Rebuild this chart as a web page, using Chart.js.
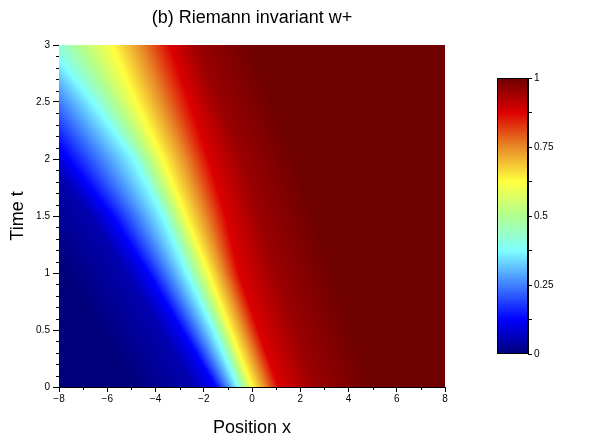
<!DOCTYPE html>
<html lang="en">
<head>
<meta charset="UTF-8">
<title>(b) Riemann invariant w+</title>
<script src="https://cdn.jsdelivr.net/npm/chart.js"></script>
<style>
    body { margin: 0; background: #fff; }
    #wrap { position: relative; width: 589px; height: 446px; }
    #mainChart { position: absolute; left: 0; top: 0; }
    #barChart { position: absolute; left: 490px; top: 70px; }
</style>
</head>
<body>
<div id="wrap">
    <canvas id="mainChart" width="589" height="446"></canvas>
    <canvas id="barChart" width="99" height="295"></canvas>
</div>
<script>
const tRows = [0, 0.5, 1, 1.5, 2, 2.5, 3];
// w+ level of each contour
const levels = [0, 0.05, 0.125, 0.375, 0.625, 0.875, 0.95, 1];
// x position of each contour at every time row
const x_w000 = [-5, -6.4, -7.8, -9.3, -11.1, -12.8, -14.3];
const x_w005 = [-2.4, -3.8, -5.2, -6.7, -8.5, -10.2, -11.7];
const x_w0125 = [-1.5, -2.9, -4.3, -5.8, -7.6, -9.3, -10.8];
const x_w0375 = [-0.6, -1.6, -2.7, -3.7, -4.9, -6.6, -8.5];
const x_w0625 = [0.0, -0.9, -1.8, -2.75, -3.7, -4.8, -5.8];
const x_w0875 = [1.1, 0.25, -0.55, -1.1, -1.8, -2.6, -3.4];
const x_w095 = [2.6, 1.8, 1.0, 0.3, -0.4, -1.4, -2.3];
const x_w100 = [5, 4.2, 3.4, 2.6, 1.8, 0.9, 0];
const levelX = [x_w000, x_w005, x_w0125, x_w0375, x_w0625, x_w0875, x_w095, x_w100];

// colour scale
const cmapStops = [0, 0.125, 0.25, 0.375, 0.5, 0.625, 0.75, 0.875, 1];
const cmapColors = ['#00007a', '#0000ff', '#4080ff', '#80ffff', '#b0ff90', '#ffff40', '#e88a28', '#dc0000', '#6e0000'];

const xTicks = [-8, -6, -4, -2, 0, 2, 4, 6, 8];
const yTicks = [0, 0.5, 1, 1.5, 2, 2.5, 3];
const barTicks = [0, 0.25, 0.5, 0.75, 1];

const FONT = "'Liberation Sans', Arial, sans-serif";

const cmapRgb = cmapColors.map(c => [1, 3, 5].map(i => parseInt(c.substr(i, 2), 16)));

function colorFor(v) {
    v = Math.max(0, Math.min(1, v));
    for (let i = 1; i < cmapStops.length; i++) {
        if (v <= cmapStops[i]) {
            const f = (v - cmapStops[i - 1]) / (cmapStops[i] - cmapStops[i - 1]);
            const a = cmapRgb[i - 1], b = cmapRgb[i];
            return [0, 1, 2].map(k => Math.round(a[k] + (b[k] - a[k]) * f));
        }
    }
    return cmapRgb[cmapRgb.length - 1];
}

function rowPos(t, arr) {
    for (let i = 1; i < tRows.length; i++) {
        if (t <= tRows[i]) {
            const f = (t - tRows[i - 1]) / (tRows[i] - tRows[i - 1]);
            return arr[i - 1] + (arr[i] - arr[i - 1]) * f;
        }
    }
    return arr[arr.length - 1];
}

function valueAt(xv, pos) {
    if (xv <= pos[0]) return levels[0];
    for (let i = 1; i < pos.length; i++) {
        if (xv <= pos[i]) {
            const f = (xv - pos[i - 1]) / (pos[i] - pos[i - 1]);
            return levels[i - 1] + (levels[i] - levels[i - 1]) * f;
        }
    }
    return levels[levels.length - 1];
}

function fmt(v) {
    return v < 0 ? '\u2212' + Math.abs(v) : String(v);
}

const heatmap = {
    id: 'heatmap',
    beforeDatasetsDraw(chart) {
        const { ctx, chartArea: a, scales: { x, y } } = chart;
        const w = Math.round(a.right - a.left), h = Math.round(a.bottom - a.top);
        const off = document.createElement('canvas');
        off.width = w; off.height = h;
        const octx = off.getContext('2d');
        const img = octx.createImageData(w, h);
        for (let py = 0; py < h; py++) {
            const t = y.getValueForPixel(a.top + py + 0.5);
            const pos = levelX.map(arr => rowPos(t, arr));
            for (let px = 0; px < w; px++) {
                const c = colorFor(valueAt(x.getValueForPixel(a.left + px + 0.5), pos));
                const k = (py * w + px) * 4;
                img.data[k] = c[0]; img.data[k + 1] = c[1]; img.data[k + 2] = c[2]; img.data[k + 3] = 255;
            }
        }
        octx.putImageData(img, 0, 0);
        ctx.drawImage(off, a.left, a.top);
    },
    afterDraw(chart) {
        // minor ticks
        const { ctx, chartArea: a, scales: { x, y } } = chart;
        ctx.save();
        ctx.strokeStyle = '#000';
        ctx.lineWidth = 1;
        ctx.beginPath();
        for (let v = -7; v <= 7; v += 2) {
            const p = Math.round(x.getPixelForValue(v)) + 0.5;
            ctx.moveTo(p, a.bottom); ctx.lineTo(p, a.bottom + 3);
        }
        for (let i = 0; i <= 30; i++) {
            if (i % 5 === 0) continue;
            const p = Math.round(y.getPixelForValue(i / 10)) + 0.5;
            ctx.moveTo(a.left, p); ctx.lineTo(a.left - 3, p);
        }
        ctx.stroke();
        ctx.restore();
    }
};

new Chart(document.getElementById('mainChart'), {
    type: 'scatter',
    data: { datasets: [] },
    options: {
        responsive: false,
        animation: false,
        layout: { padding: { left: 0, right: 144, top: 0, bottom: 0 } },
        plugins: {
            legend: { display: false },
            tooltip: { enabled: false },
            title: {
                display: true,
                text: '(b) Riemann invariant w+',
                color: '#000',
                fullSize: false,
                font: { family: FONT, size: 18, weight: 'normal' },
                padding: { top: 7, bottom: 16.4 }
            }
        },
        scales: {
            x: {
                type: 'linear', min: -8, max: 8,
                afterFit: s => { s.height = 59; },
                afterBuildTicks: s => { s.ticks = xTicks.map(v => ({ value: v })); },
                border: { color: '#000' },
                grid: { drawOnChartArea: false, tickLength: 5, color: '#000' },
                ticks: { color: '#000', font: { family: FONT, size: 10 }, padding: 1, maxRotation: 0, callback: v => fmt(v) },
                title: { display: true, text: 'Position x', color: '#000', font: { family: FONT, size: 18 }, padding: { top: 0, bottom: 7 } }
            },
            y: {
                type: 'linear', min: 0, max: 3,
                afterFit: s => { s.width = 59; },
                afterBuildTicks: s => { s.ticks = yTicks.map(v => ({ value: v })); },
                border: { color: '#000' },
                grid: { drawOnChartArea: false, tickLength: 6, color: '#000' },
                ticks: { color: '#000', font: { family: FONT, size: 10 }, padding: 3, callback: v => fmt(v) },
                title: { display: true, text: 'Time t', color: '#000', font: { family: FONT, size: 18 }, padding: { top: 7, bottom: 0 } }
            }
        }
    },
    plugins: [heatmap]
});

const colorbar = {
    id: 'colorbar',
    beforeDatasetsDraw(chart) {
        const { ctx, chartArea: a, scales: { y } } = chart;
        const g = ctx.createLinearGradient(0, y.getPixelForValue(0), 0, y.getPixelForValue(1));
        cmapStops.forEach((s, i) => g.addColorStop(s, cmapColors[i]));
        ctx.save();
        ctx.fillStyle = g;
        ctx.fillRect(a.left, a.top, a.right - a.left, a.bottom - a.top);
        ctx.strokeStyle = '#000';
        ctx.lineWidth = 1;
        ctx.strokeRect(a.left + 0.5, a.top + 0.5, a.right - a.left - 1, a.bottom - a.top - 1);
        ctx.restore();
    }
};

new Chart(document.getElementById('barChart'), {
    type: 'scatter',
    data: { datasets: [] },
    options: {
        responsive: false,
        animation: false,
        layout: { padding: { left: 7, right: 0, top: 8, bottom: 11 } },
        plugins: { legend: { display: false }, tooltip: { enabled: false } },
        scales: {
            x: { display: false, min: 0, max: 1 },
            y: {
                type: 'linear', position: 'right', min: 0, max: 1,
                afterFit: s => { s.width = 61; },
                afterBuildTicks: s => { s.ticks = [0, 0.125, 0.25, 0.375, 0.5, 0.625, 0.75, 0.875, 1].map(v => ({ value: v })); },
                border: { color: '#000' },
                grid: { drawOnChartArea: false, tickLength: 4, color: '#000' },
                ticks: { color: '#000', font: { family: FONT, size: 10 }, padding: 2, callback: v => barTicks.includes(v) ? String(v) : '' }
            }
        }
    },
    plugins: [colorbar]
});
</script>
</body>
</html>
